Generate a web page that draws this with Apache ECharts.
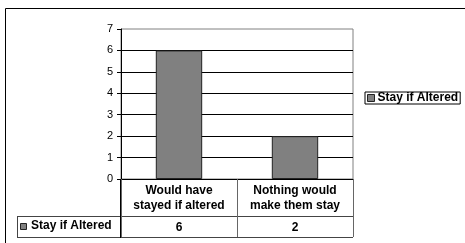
<!DOCTYPE html>
<html>
<head>
<meta charset="utf-8">
<script src="https://cdn.jsdelivr.net/npm/echarts@6/dist/echarts.min.js"></script>
<style>
  html, body { margin: 0; padding: 0; background: #fff; }
  #chart { width: 465px; height: 243px; }
</style>
</head>
<body>
<div id="chart"></div>
<script>
// data
const categories = ['Would have\nstayed if altered', 'Nothing would\nmake them stay'];
const seriesName = 'Stay if Altered';
const stayValues = [6, 2];
const yTicks = { min: 0, max: 7, interval: 1 };

const FONT = 'Liberation Sans, Arial, sans-serif';
const BAR = '#808080';

const chart = echarts.init(document.getElementById('chart'));

const option = {
  animation: false,
  textStyle: { fontFamily: FONT },
  grid: {
    left: 121, right: 112, top: 29, bottom: 64,
    show: true, borderColor: '#808080', borderWidth: 1
  },
  legend: {
    left: 365, top: 92,
    orient: 'vertical',
    data: [seriesName],
    icon: 'rect',
    itemWidth: 7, itemHeight: 7,
    itemStyle: { borderColor: '#222', borderWidth: 1 },
    padding: [0, 2],
    borderColor: '#000', borderWidth: 1,
    textStyle: { fontFamily: FONT, fontWeight: 'bold', fontSize: 12, color: '#000', padding: [0, 0, 0, -2] }
  },
  xAxis: [
    {
      type: 'category',
      data: categories,
      axisLine: { lineStyle: { color: '#000', width: 1 } },
      axisTick: { show: true, length: 58, interval: 0, lineStyle: { color: '#666' } },
      axisLabel: {
        interval: 0, margin: 4, color: '#000',
        fontFamily: FONT, fontWeight: 'bold', fontSize: 12, lineHeight: 15
      }
    },
    {
      type: 'category',
      position: 'bottom',
      offset: 42,
      data: stayValues.map(String),
      axisLine: { show: false },
      axisTick: { show: false },
      axisLabel: {
        interval: 0, margin: 0, color: '#000',
        fontFamily: FONT, fontWeight: 'bold', fontSize: 12, lineHeight: 13
      }
    }
  ],
  yAxis: {
    type: 'value',
    min: yTicks.min, max: yTicks.max, interval: yTicks.interval,
    axisLine: { show: true, lineStyle: { color: '#000' } },
    axisTick: { show: true, length: 4, lineStyle: { color: '#000' } },
    axisLabel: { margin: 8, color: '#000', fontFamily: FONT, fontSize: 11 },
    splitLine: { show: true, showMaxLine: false, lineStyle: { color: '#000', width: 1 } }
  },
  series: [
    {
      name: seriesName,
      type: 'bar',
      data: stayValues,
      barWidth: '40%',
      itemStyle: { color: BAR, borderColor: '#222', borderWidth: 1 }
    }
  ],
  graphic: [
    // outer chart frame
    { type: 'rect', shape: { x: 5.5, y: 8.5, width: 480, height: 260 },
      style: { fill: 'none', stroke: '#000', lineWidth: 1 }, silent: true },
    // data table lines
    { type: 'line', shape: { x1: 17, y1: 216.5, x2: 353, y2: 216.5 }, style: { stroke: '#444', lineWidth: 1 } },
    { type: 'line', shape: { x1: 17, y1: 237.5, x2: 353, y2: 237.5 }, style: { stroke: '#444', lineWidth: 1 } },
    { type: 'line', shape: { x1: 17.5, y1: 216, x2: 17.5, y2: 238 }, style: { stroke: '#444', lineWidth: 1 } },
    { type: 'line', shape: { x1: 120.5, y1: 179, x2: 120.5, y2: 238 }, style: { stroke: '#000', lineWidth: 1 } },
    // legend key in the table
    { type: 'rect', shape: { x: 20.5, y: 223.5, width: 6, height: 6 },
      style: { fill: BAR, stroke: '#222', lineWidth: 1 } },
    { type: 'text', left: 31, top: 220,
      style: { text: seriesName, font: 'bold 12px ' + FONT, fill: '#000' } }
  ]
};

chart.setOption(option);
</script>
</body>
</html>
